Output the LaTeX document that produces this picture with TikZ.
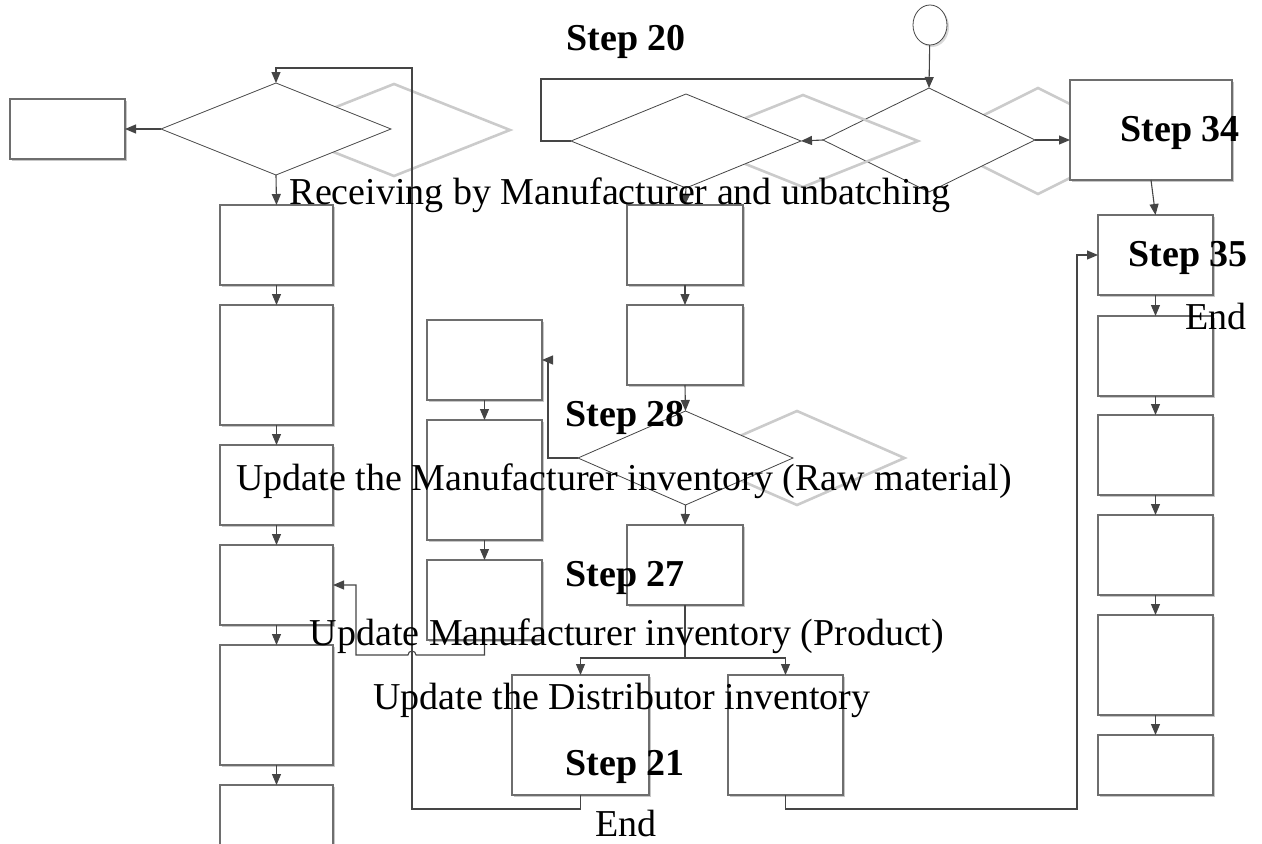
\documentclass[tikz,border=0pt]{standalone}
\usepackage{fontspec}
\setmainfont{Liberation Serif}
\usetikzlibrary{shapes.geometric,arrows.meta,shadows}
\definecolor{boxline}{HTML}{6E6E6E}
\definecolor{connline}{HTML}{454545}
\definecolor{ghostline}{HTML}{CBCBCB}
\begin{document}
\begin{tikzpicture}[x=1pt,y=-1pt,
    box/.style={draw=boxline,line width=1.1pt,fill=white,inner sep=0pt,outer sep=0pt,
      drop shadow={shadow xshift=2pt,shadow yshift=-2pt,fill=black!22,opacity=1}},
    decision/.style={diamond,draw=connline,line width=0.8pt,fill=white,inner sep=0pt,outer sep=0pt},
    ghost/.style={diamond,draw=ghostline,line width=2.6pt,inner sep=0pt,outer sep=0pt},
    conn/.style={draw=connline,line width=1.1pt},
    arr/.style={conn,-{Triangle[length=11pt,width=9pt]}},
    lbl/.style={anchor=base,inner sep=0pt,font=\fontsize{38}{40}\selectfont},
    boldlbl/.style={lbl,font=\fontsize{38}{40}\selectfont\bfseries}]
\useasboundingbox (0,0) rectangle (1262,844);
\clip (0,0) rectangle (1262,844);

\node[ghost,minimum width=232pt,minimum height=92pt] (d1s) at (394,130) {};
\node[decision,minimum width=230pt,minimum height=92pt] (d1) at (276,129) {};
\node[ghost,minimum width=212pt,minimum height=106pt] (d2s) at (1038,141) {};
\node[decision,minimum width=212pt,minimum height=104pt] (d2) at (929,140) {};
\node[ghost,minimum width=230pt,minimum height=92pt] (d3s) at (803,141) {};
\node[decision,minimum width=230pt,minimum height=94pt] (d3) at (686,141) {};
\node[ghost,minimum width=215pt,minimum height=94pt] (d4s) at (797,458) {};
\node[decision,minimum width=215pt,minimum height=94pt] (d4) at (685.5,458) {};

\node[ellipse,draw=connline,line width=0.8pt,fill=white,inner sep=0pt,outer sep=0pt,
  minimum width=34pt,minimum height=40pt,
  drop shadow={shadow xshift=2pt,shadow yshift=-2pt,fill=black!15,opacity=1}] (start) at (930,25) {};

\node[box,minimum width=115pt,minimum height=60pt] (l0) at (67.5,129) {};
\node[box,minimum width=113pt,minimum height=80pt] (a1) at (276.5,245) {};
\node[box,minimum width=113pt,minimum height=120pt] (a2) at (276.5,365) {};
\node[box,minimum width=113pt,minimum height=80pt] (a3) at (276.5,485) {};
\node[box,minimum width=113pt,minimum height=80pt] (a4) at (276.5,585) {};
\node[box,minimum width=113pt,minimum height=120pt] (a5) at (276.5,705) {};
\node[box,minimum width=113pt,minimum height=80pt] (a6) at (276.5,825) {};
\node[box,minimum width=115pt,minimum height=80pt] (c1) at (484.5,360) {};
\node[box,minimum width=115pt,minimum height=120pt] (c2) at (484.5,480) {};
\node[box,minimum width=115pt,minimum height=80pt] (c3) at (484.5,600) {};
\node[box,minimum width=116pt,minimum height=80pt] (m1) at (685,245) {};
\node[box,minimum width=116pt,minimum height=80pt] (m2) at (685,345) {};
\node[box,minimum width=116pt,minimum height=80pt] (m3) at (685,565) {};
\node[box,minimum width=137pt,minimum height=120pt] (b1) at (580.5,735) {};
\node[box,minimum width=115pt,minimum height=120pt] (b2) at (785.5,735) {};
\node[box,minimum width=162pt,minimum height=100pt] (s34) at (1151,130) {};
\node[box,minimum width=115pt,minimum height=80pt] (s35) at (1155.5,255) {};
\node[box,minimum width=115pt,minimum height=80pt] (r1) at (1155.5,356) {};
\node[box,minimum width=115pt,minimum height=80pt] (r2) at (1155.5,455) {};
\node[box,minimum width=115pt,minimum height=80pt] (r3) at (1155.5,555) {};
\node[box,minimum width=115pt,minimum height=100pt] (r4) at (1155.5,665) {};
\node[box,minimum width=115pt,minimum height=60pt] (r5) at (1155.5,765) {};

\coordinate (split) at (930,79);
\coordinate (bend) at (541,141);
\coordinate (loopa) at (412,809);
\coordinate (loopb) at (412,68);
\coordinate (loopc) at (1077,809);
\coordinate (fork) at (685,658);

\draw[arr] (start) -- (d2.north);
\draw[conn] (split) -| (bend) -- (d3.west);
\draw[arr] (d2.west) -- (d3.east);
\draw[arr] (d2.east) -- (d2.east -| s34.west);
\draw[arr] (s34.south) -- (s35.north);
\draw[arr] (d1.west) -- (l0.east);
\draw[arr] (d1.south) -- (a1.north);
\draw[arr] (d3.south) -- (m1.north);
\draw[arr] (m2.south) -- (d4.north);
\draw[arr] (d4.south) -- (m3.north);
\draw[arr] (d4.west) -| ([xshift=6pt]c1.east) -- (c1.east);
\foreach \from/\to in {a1/a2,a2/a3,a3/a4,a4/a5,a5/a6,m1/m2,c1/c2,c2/c3,s35/r1,r1/r2,r2/r3,r3/r4,r4/r5}
  \draw[arr] (\from) -- (\to);
\draw[arr] (c3.south) |- (416,655) arc[start angle=0,end angle=180,radius=4pt] -- (356,655) |- (a4.east);
\draw[conn] (m3.south) -- (fork);
\draw[arr] (fork) -| (b1.north);
\draw[arr] (fork) -| (b2.north);
\draw[arr] (b1.south) |- (loopa) -- (loopb) -| (d1.north);
\draw[arr] (b2.south) |- (loopc) |- (s35.west);

\node[boldlbl] (t20) at (626,50) {Step 20};
\node[lbl] (trecv) at (620,204) {Receiving by Manufacturer and unbatching};
\node[boldlbl] (t34) at (1180,141) {Step 34};
\node[boldlbl] (t35) at (1188,266) {Step 35};
\node[lbl] (tend1) at (1216,329) {End};
\node[boldlbl] (t28) at (625,426) {Step 28};
\node[lbl] (traw) at (624,490) {Update the Manufacturer inventory (Raw material)};
\node[boldlbl] (t27) at (625,586) {Step 27};
\node[lbl] (tprod) at (627,645) {Update Manufacturer inventory (Product)};
\node[lbl] (tdist) at (622,709) {Update the Distributor inventory};
\node[boldlbl] (t21) at (625,775) {Step 21};
\node[lbl] (tend2) at (626,836) {End};
\end{tikzpicture}
\end{document}
